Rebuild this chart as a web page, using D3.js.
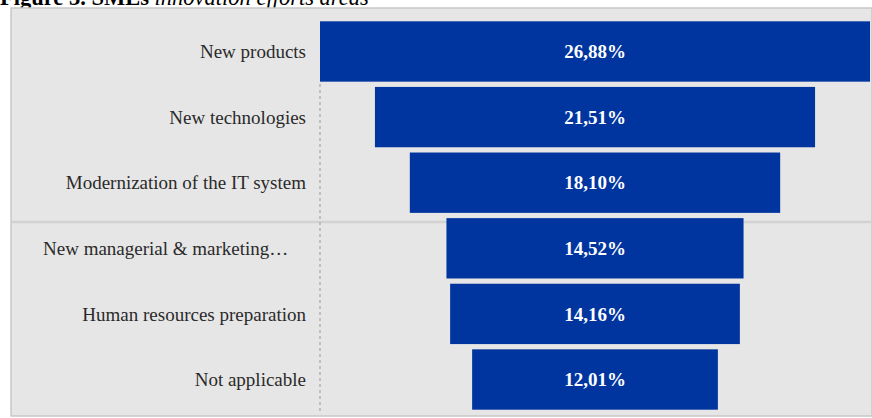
<!DOCTYPE html>
<html><head><meta charset="utf-8">
<script src="https://cdn.jsdelivr.net/npm/d3@7"></script>
<style>html,body{margin:0;padding:0;background:#fff;}svg{display:block;}</style>
</head><body>
<svg id="chart" width="872" height="418"></svg>
<script>
const categories = ["New products","New technologies","Modernization of the IT system","New managerial & marketing\u2026","Human resources preparation","Not applicable"];
const values = [26.88, 21.51, 18.10, 14.52, 14.16, 12.01];
const valueLabels = ["26,88%","21,51%","18,10%","14,52%","14,16%","12,01%"];

const svg = d3.select("#chart");
const W = 872, H = 418;
const serif = "Liberation Serif, Times New Roman, serif";
// title (cropped at top, as in the reference)
const title = svg.append("text").attr("x", 0).attr("y", 5)
  .attr("font-family", serif).attr("font-size", 22.5).attr("fill", "#000");
title.append("tspan").attr("font-weight", "bold").text("Figure 3. SMEs ");
title.append("tspan").attr("font-style", "italic").text("innovation efforts areas");

// panel
svg.append("rect").attr("x", 11).attr("y", 8).attr("width", W - 11).attr("height", 408)
  .attr("fill", "#e6e6e6").attr("stroke", "#c8c8c8").attr("stroke-width", 1.5);
svg.append("line").attr("x1", 11).attr("x2", W).attr("y1", 222).attr("y2", 222)
  .attr("stroke", "#d2d2d2").attr("stroke-width", 2.5);

const center = 595;
const maxHalf = 275;
const w = d3.scaleLinear().domain([0, values[0]]).range([0, maxHalf * 2]);
const y = d3.scaleBand().domain(categories).range([20, 411]).paddingInner(0.08).paddingOuter(0.02);

svg.append("line").attr("x1", 320).attr("x2", 320).attr("y1", 84).attr("y2", 412)
  .attr("stroke", "#999").attr("stroke-dasharray", "3,3").attr("stroke-width", 1);

const g = svg.append("g");
g.selectAll("rect.bar").data(categories).join("rect").attr("class", "bar")
  .attr("x", (d, i) => center - w(values[i]) / 2)
  .attr("y", d => y(d))
  .attr("width", (d, i) => w(values[i]))
  .attr("height", y.bandwidth())
  .attr("fill", "#0035a0");
g.selectAll("text.val").data(categories).join("text").attr("class", "val")
  .attr("x", center).attr("y", d => y(d) + y.bandwidth() / 2)
  .attr("dy", "0.35em").attr("text-anchor", "middle")
  .attr("font-family", serif).attr("font-weight", "bold")
  .attr("font-size", 19).attr("fill", "#fff")
  .text((d, i) => valueLabels[i]);
g.selectAll("text.cat").data(categories).join("text").attr("class", "cat")
  .attr("x", d => d.endsWith("\u2026") ? 43 : 306)
  .attr("y", d => y(d) + y.bandwidth() / 2)
  .attr("dy", "0.35em").attr("text-anchor", d => d.endsWith("\u2026") ? "start" : "end")
  .attr("font-family", serif)
  .attr("font-size", 19).attr("fill", "#2a2a2a")
  .text(d => d);
</script>
</body></html>
